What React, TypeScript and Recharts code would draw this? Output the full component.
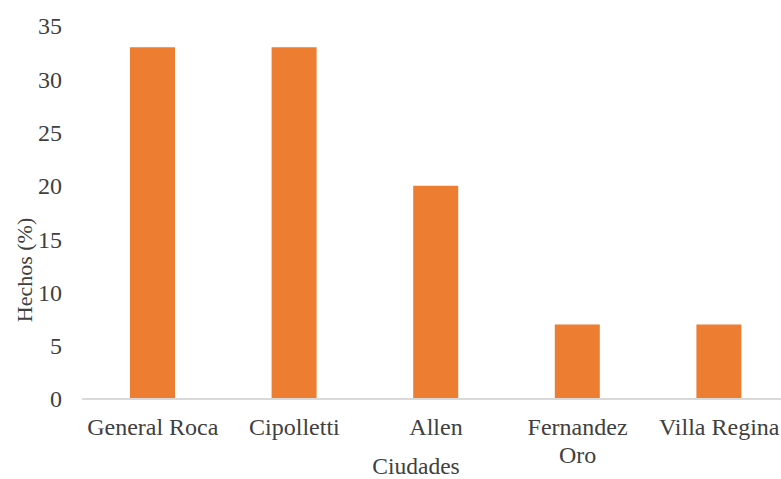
import React from "react";
import { BarChart, Bar, XAxis, YAxis, Label } from "recharts";

const categories = ["General Roca", "Cipolletti", "Allen", "Fernandez Oro", "Villa Regina"];
const hechos = [33, 33, 20, 7, 7];
const yTicks = [0, 5, 10, 15, 20, 25, 30, 35];
const xTitle = "Ciudades";
const yTitle = "Hechos (%)";

const data = categories.map((c, i) => ({ ciudad: c, hechos: hechos[i] }));

const FONT = "Liberation Serif";
const TEXT = "#404040";
const FS = 24;

const XTick = (props: any) => {
  const { x, y, payload } = props;
  const label: string = payload.value;
  const lines = label.length > 12 ? label.split(" ") : [label];
  return (
    <text x={x} y={y} textAnchor="middle" fill={TEXT} fontFamily={FONT} fontSize={FS} style={{ fontFamily: FONT, fontSize: FS }}>
      {lines.map((l, i) => (
        <tspan key={i} x={x} y={y + 36 + i * 28}>
          {l}
        </tspan>
      ))}
    </text>
  );
};

const YTick = (props: any) => {
  const { x, y, payload } = props;
  return (
    <text x={x} y={y} dy="0.35em" textAnchor="end" fill={TEXT} fontFamily={FONT} fontSize={FS} style={{ fontFamily: FONT, fontSize: FS }}>
      {payload.value}
    </text>
  );
};

export default function App() {
  return (
    <div style={{ position: "fixed", left: 0, top: 0, width: 781, height: 479, overflow: "hidden", background: "#fff", fontFamily: FONT }}>
      <BarChart width={800} height={479} data={data} margin={{ top: 26, right: 10, bottom: 0, left: 0 }}>
        <XAxis
          dataKey="ciudad"
          height={80}
          tickLine={false}
          tickSize={0}
          tickMargin={0}
          axisLine={{ stroke: "#d9d9d9", strokeWidth: 2 }}
          tick={<XTick />}
          interval={0}
        >
          <Label
            content={() => (
              <text x={416} y={474} textAnchor="middle" fill={TEXT} fontFamily={FONT} fontSize={23.5} style={{ fontFamily: FONT, fontSize: 23.5 }}>
                {xTitle}
              </text>
            )}
          />
        </XAxis>
        <YAxis
          width={82}
          domain={[0, 35]}
          ticks={yTicks}
          tickLine={false}
          axisLine={false}
          tickSize={0}
          tickMargin={20}
          tick={<YTick />}
          interval={0}
        >
          <Label
            content={() => (
              <text
                x={32}
                y={270}
                textAnchor="middle"
                fill={TEXT}
                fontFamily={FONT}
                fontSize={22}
                style={{ fontFamily: FONT, fontSize: 22 }}
                transform="rotate(-90, 32, 270)"
              >
                {yTitle}
              </text>
            )}
          />
        </YAxis>
        <Bar dataKey="hechos" fill="#ED7D31" barSize={45} isAnimationActive={false} />
      </BarChart>
    </div>
  );
}
